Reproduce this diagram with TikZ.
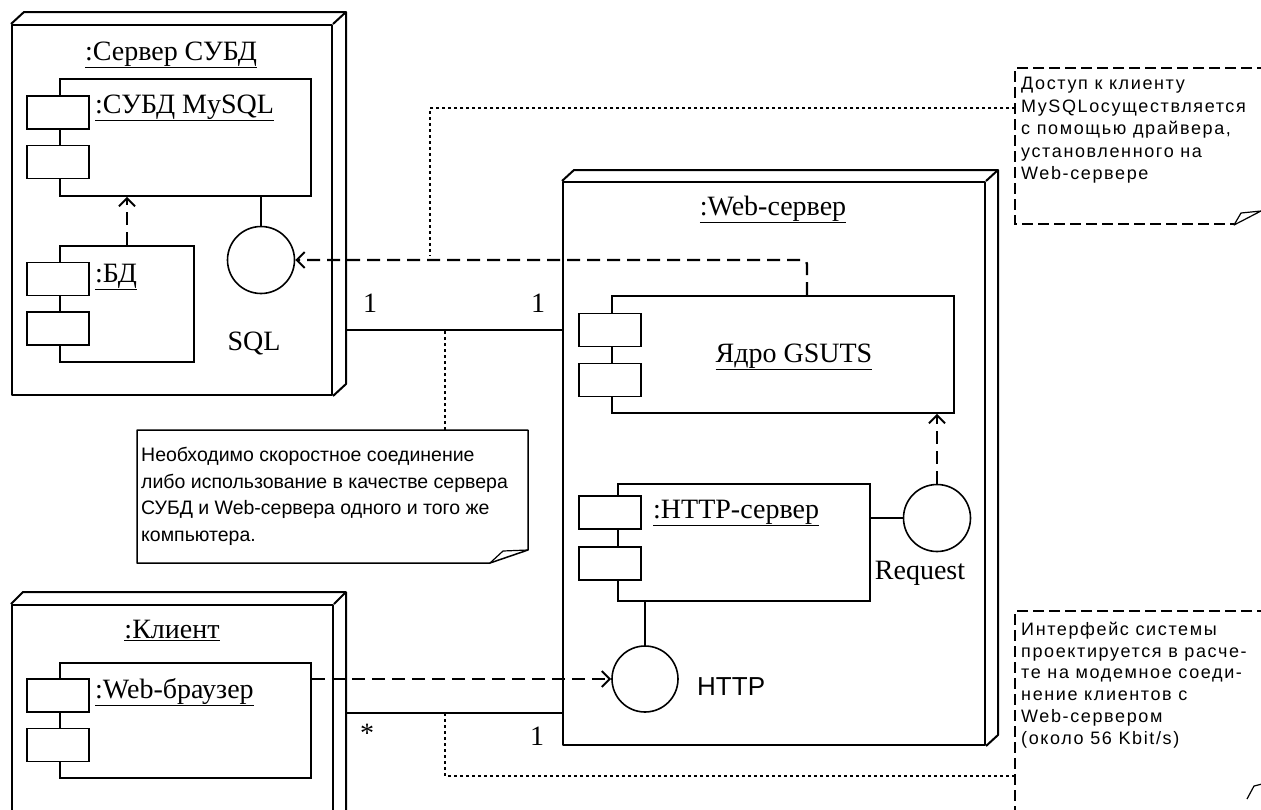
\documentclass[tikz,border=0pt]{standalone}
\usepackage{fontspec}
\setmainfont{Liberation Serif}
\newfontfamily\notefont{Liberation Sans}
\newfontfamily\notewide[LetterSpace=9]{Liberation Sans}
\usetikzlibrary{arrows.meta}
\begin{document}
\begin{tikzpicture}[x=1pt,y=-1pt,
  every node/.style={inner sep=0pt},
  frame/.style={line width=2pt, line join=round},
  nodebox/.style={draw, frame, rectangle},
  comp/.style={draw, line width=1.8pt, rectangle},
  port/.style={draw, line width=1.8pt, rectangle, fill=white, minimum width=62pt, minimum height=33pt},
  iface/.style={draw, circle, line width=1.6pt, minimum size=67pt},
  big/.style={font=\fontsize{28}{32}\selectfont},
  dep/.style={line width=2.4pt, dash pattern=on 13pt off 7pt, -{Straight Barb[length=8pt,width=16pt,line width=2pt]}},
  assoc/.style={line width=1.8pt},
  link/.style={line width=1.5pt, dash pattern=on 3pt off 3pt},
  notedash/.style={line width=1.4pt, dash pattern=on 11pt off 5pt},
  notesolid/.style={line width=1.5pt, line join=round},
  fold/.style={line width=1.2pt, line join=round},
  notetxt/.style={align=left, anchor=north west}
]
\useasboundingbox (0,0) rectangle (1261,809);
\clip (0,0) rectangle (1261,809);

% ---------- Сервер СУБД ----------
\node[nodebox, minimum width=320pt, minimum height=370pt] (srv) at (172,210) {};
\draw[frame] (srv.north west) -- ++(13,-12) -| ([shift={(13,-12)}]srv.south east) -- (srv.south east);
\draw[frame] (srv.north east) -- ++(13,-12);
\node[big, anchor=base] (srvt) at (171,60) {\underline{:Сервер СУБД}};

\node[comp, minimum width=251pt, minimum height=117pt] (mysql) at (185.5,137.5) {};
\node[port] (mysqlp1) at (58,112.5) {};
\node[port] (mysqlp2) at (58,162) {};
\node[big, anchor=base west] (mysqlt) at (95,113) {\underline{:СУБД MySQL}};

\node[comp, minimum width=134pt, minimum height=116pt] (bd) at (127,304) {};
\node[port] (bdp1) at (58,279) {};
\node[port] (bdp2) at (58,328.5) {};
\node[big, anchor=base west] (bdt) at (95,282) {\underline{:БД}};

\node[iface] (sql) at (261,260) {};
\node[big, anchor=base] (sqlt) at (254,350) {SQL};
\draw[assoc] (sql.north) -- (sql.north |- mysql.south);
\draw[dep] (bd.north) -- (bd.north |- mysql.south);

% ---------- Web-сервер ----------
\node[nodebox, minimum width=422pt, minimum height=563pt] (web) at (774,463.5) {};
\draw[frame] (web.north west) -- ++(12,-11) -| ([shift={(12,-11)}]web.south east) -- (web.south east);
\draw[frame] (web.north east) -- ++(12,-11);
\node[big, anchor=base] (webt) at (773,215) {\underline{:Web-сервер}};

\node[comp, minimum width=342pt, minimum height=117pt] (core) at (783,354.5) {};
\node[port] (corep1) at (610,330) {};
\node[port] (corep2) at (610,380) {};
\node[big, anchor=base] (coret) at (794,362) {\underline{Ядро GSUTS}};

\node[comp, minimum width=252pt, minimum height=117pt] (httpsrv) at (744,542.5) {};
\node[port] (httpp1) at (610,512.5) {};
\node[port] (httpp2) at (610,563.5) {};
\node[big, anchor=base west] (httpt) at (653,518) {\underline{:HTTP-сервер}};

\node[iface] (req) at (937,518) {};
\node[big, anchor=base] (reqt) at (920,579) {Request};
\draw[assoc, line width=1.4pt] (httpsrv.east |- req.west) -- (req.west);
\draw[dep] (req.north) -- (req.north |- core.south);

\node[iface, minimum size=66pt] (http) at (645,679) {};
\node[anchor=base west, font=\notefont\fontsize{26}{30}\selectfont] (httplbl) at (697,695) {HTTP};
\draw[assoc] (http.north) -- (http.north |- httpsrv.south);

% ---------- Клиент ----------
\node[nodebox, minimum width=321pt, minimum height=235pt] (cli) at (172.5,722.5) {};
\draw[frame] (cli.north west) -- ++(12,-12) -| ([shift={(12,-12)}]cli.south east) -- (cli.south east);
\draw[frame] (cli.north east) -- ++(12,-12);
\node[big, anchor=base] (clit) at (172,638) {\underline{:Клиент}};

\node[comp, minimum width=251pt, minimum height=115pt] (browser) at (185.5,720.5) {};
\node[port] (brp1) at (58,695.5) {};
\node[port] (brp2) at (58,745) {};
\node[big, anchor=base west] (brt) at (95,698) {\underline{:Web-браузер}};

\draw[dep] (browser.east |- http.west) -- (http.west);

% ---------- associations ----------
\coordinate (a1s) at (345,330);
\coordinate (a1e) at (web.west |- a1s);
\draw[assoc] (a1s) -- (a1e);
\node[big, anchor=base] (m1) at (370,312) {1};
\node[big, anchor=base] (m2) at (538,312) {1};

\coordinate (a2s) at (345,713);
\coordinate (a2e) at (web.west |- a2s);
\draw[assoc] (a2s) -- (a2e);
\node[big] (m3) at (367,733) {*};
\node[big, anchor=base] (m4) at (537,745) {1};

% dependency core -> SQL
\draw[dep, rounded corners=4pt] ([xshift=24pt]core.north) |- (sql.east);

% ---------- notes ----------
% note 1
\draw[notedash] (1268,68) -- (1015,68) -- (1015,224) -- (1234,224);
\draw[fold] (1234,225) -- (1241,213) -- (1261,211) -- cycle;
\node[notetxt, font=\notewide\fontsize{18}{22.5}\selectfont] (n1) at (1021,77)
  {Доступ к клиенту\\MySQLосуществляется\\с помощью драйвера,\\установленного на\\Web-сервере};
\coordinate (n1a) at (1015,108);
\coordinate (n1b) at (430,256);
\draw[link] (n1a) -| (n1b);

% note 2
\draw[notesolid] (137,430) -- (528,430) -- (528,550) -- (490,563) -- (137,563) -- cycle;
\draw[fold] (490,563) -- (503,551) -- (528,550);
\node[notetxt, font=\notefont\fontsize{19.5}{26.5}\selectfont] (n2) at (141,447)
  {Необходимо скоростное соединение\\либо использование в качестве сервера\\СУБД и Web-сервера одного и того же\\компьютера.};
\coordinate (n2a) at (445,430);
\coordinate (n2b) at (445,330);
\draw[link] (n2a) -- (n2b);

% note 3
\draw[notedash] (1268,611) -- (1015,611) -- (1015,815);
\draw[fold] (1247,799) -- (1254,786) -- (1262,784);
\node[notetxt, font=\notewide\fontsize{18}{21.7}\selectfont] (n3) at (1021,622)
  {Интерфейс системы\\проектируется в расче-\\те на модемное соеди-\\нение клиентов с\\Web-сервером\\(около 56 Kbit/s)};
\coordinate (n3a) at (445,713);
\coordinate (n3b) at (1015,776);
\draw[link] (n3a) |- (n3b);
\end{tikzpicture}
\end{document}
